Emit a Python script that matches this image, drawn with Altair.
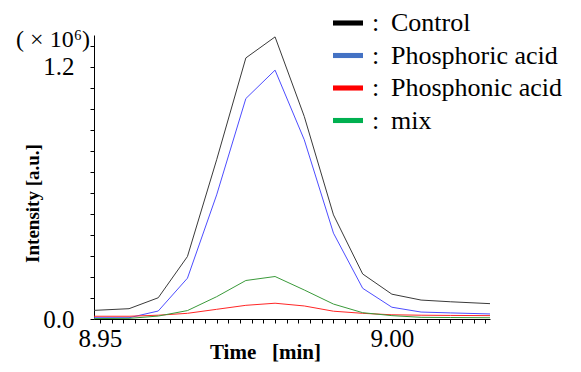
import altair as alt
import pandas as pd

times = [8.949, 8.955, 8.960, 8.965, 8.970, 8.975, 8.980, 8.985, 8.990, 8.995, 9.000, 9.005, 9.010, 9.0168]
control = [0.041, 0.049, 0.101, 0.297, 0.757, 1.241, 1.341, 0.963, 0.495, 0.214, 0.118, 0.090, 0.082, 0.073]
phosphoric = [0.006, 0.006, 0.038, 0.194, 0.590, 1.048, 1.183, 0.852, 0.408, 0.146, 0.056, 0.033, 0.029, 0.024]
phosphonic = [0.013, 0.013, 0.018, 0.027, 0.046, 0.065, 0.075, 0.062, 0.037, 0.027, 0.020, 0.018, 0.017, 0.016]
mix = [0.002, 0.003, 0.014, 0.040, 0.106, 0.183, 0.202, 0.138, 0.071, 0.030, 0.016, 0.008, 0.007, 0.006]

series_names = ["Control", "Phosphoric acid", "Phosphonic acid", "mix"]
line_colors = ["#3a3a3a", "#4d4dff", "#ff2626", "#3a9a3a"]
legend_colors = ["#000000", "#4472C4", "#FF0000", "#00B050"]

x_ticks = [round(8.95 + 0.002 * k, 3) for k in range(34)]
y_ticks = [round(0.1 * k, 1) for k in range(14)]

rows = []
for name, vals in zip(series_names, [control, phosphoric, phosphonic, mix]):
    for t, v in zip(times, vals):
        rows.append({"time": t, "value": v, "series": name, "key": name})
df = pd.DataFrame(rows)

FONT = "Liberation Serif"

x_enc = alt.X(
    "time:Q",
    scale=alt.Scale(domain=[8.949, 9.0168], nice=False, zero=False),
    axis=alt.Axis(
        title="Time\u00a0\u00a0\u00a0[min]",
        values=x_ticks,
        labelExpr="abs(datum.value-8.95)<0.0005 || abs(datum.value-9.0)<0.0005 ? format(datum.value, '.2f') : ''",
        labelOverlap=False,
        labelFlush=False,
        labelFont=FONT,
        labelFontSize=25,
        labelColor="#000",
        labelPadding=3,
        tickSize=4,
        tickColor="#000",
        domainColor="#000",
        titleFont=FONT,
        titleFontSize=21,
        titleFontWeight="bold",
        titleColor="#000",
        titleX=171,
        titleY=33,
        titleBaseline="middle",
        titleAnchor="start",
        titleAlign="center",
        grid=False,
    ),
)
y_enc = alt.Y(
    "value:Q",
    scale=alt.Scale(domain=[0, 1.35], nice=False),
    axis=alt.Axis(
        title="Intensity [a.u.]",
        values=y_ticks,
        labelExpr="datum.value < 0.01 || abs(datum.value-1.2) < 0.01 ? format(datum.value, '.1f') : ''",
        labelOverlap=False,
        labelFlush=False,
        labelFont=FONT,
        labelFontSize=25,
        labelColor="#000",
        labelPadding=16,
        tickSize=4,
        tickColor="#000",
        domainColor="#000",
        titleFont=FONT,
        titleFontSize=19,
        titleFontWeight="bold",
        titleColor="#000",
        titleX=-62,
        titleY=168,
        titleAngle=270,
        titleBaseline="middle",
        titleAlign="center",
        grid=False,
    ),
)

lines = alt.Chart(df).mark_line(strokeWidth=1, clip=True).encode(
    x=x_enc,
    y=y_enc,
    color=alt.Color("series:N", scale=alt.Scale(domain=series_names, range=line_colors), legend=None),
)

legend_layer = alt.Chart(df).mark_square(opacity=0).encode(
    x=x_enc,
    y=y_enc,
    color=alt.Color(
        "key:N",
        scale=alt.Scale(domain=series_names, range=legend_colors),
        legend=alt.Legend(
            title=None,
            orient="none",
            legendX=239,
            legendY=-27,
            symbolType="M-1,-0.17H1V0.17H-1Z",
            symbolSize=900,
            symbolStrokeWidth=0,
            symbolOpacity=1,
            labelExpr="':\u00a0\u2009' + datum.label",
            labelFont=FONT,
            labelFontSize=26,
            labelColor="#000",
            labelOffset=9,
            labelLimit=400,
            rowPadding=4.5,
            padding=0,
        ),
    ),
)

exp_text = alt.Chart(pd.DataFrame({"t": ["(\u00a0×\u00a010⁶)"]})).mark_text(
    font=FONT, fontSize=24, align="right", baseline="middle", color="#000"
).encode(text="t:N", x=alt.value(-4), y=alt.value(5))

chart = alt.layer(lines, legend_layer, exp_text).resolve_scale(color="independent").properties(
    width=396,
    height=284,
    background="white",
    autosize=alt.AutoSizeParams(type="none"),
    padding={"left": 86, "top": 27, "right": 83, "bottom": 45},
).configure(font=FONT).configure_view(stroke=None).configure_legend(
    labelFont=FONT, labelFontSize=26, labelColor="#000"
)

chart.save("out.html", embed_options={"renderer": "svg", "actions": False})
